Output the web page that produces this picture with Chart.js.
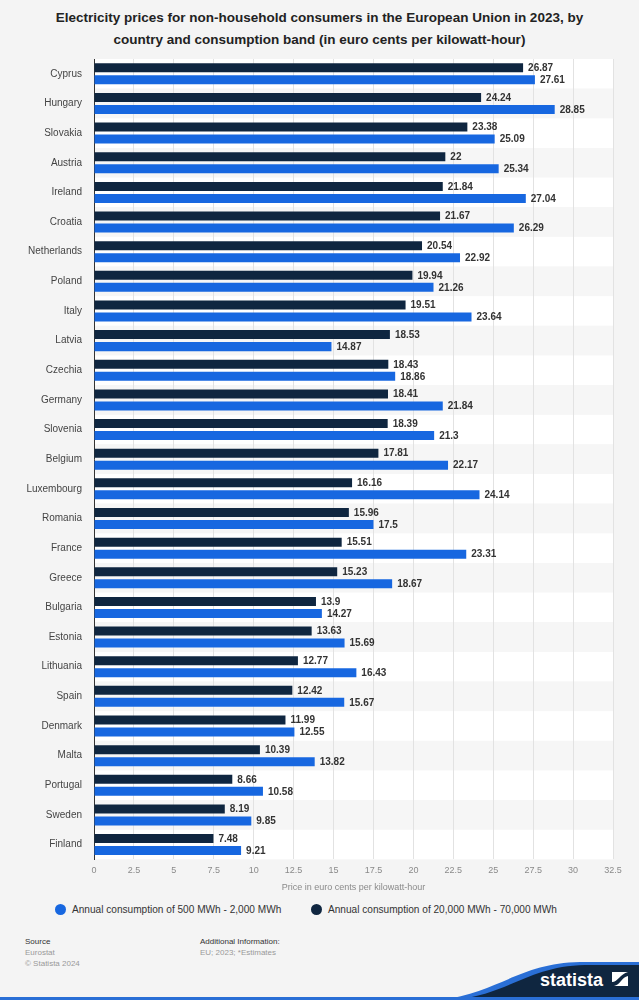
<!DOCTYPE html>
<html>
<head>
<meta charset="utf-8">
<script src="https://cdn.jsdelivr.net/npm/chart.js@4/dist/chart.umd.min.js"></script>
<style>
  html,body{margin:0;padding:0;background:#f4f4f4;}
  body{width:639px;height:1000px;position:relative;overflow:hidden;font-family:"Liberation Sans",Arial,sans-serif;}
  #title{position:absolute;top:7px;left:0;width:639px;text-align:center;font-weight:bold;font-size:13.5px;line-height:22px;color:#222;}
  #wrap{position:absolute;top:49px;left:0;width:639px;height:844px;}
  #legend{position:absolute;top:902px;left:0;width:639px;height:16px;font-size:10.1px;color:#333;}
  #legend span.item{position:absolute;top:0;white-space:nowrap;line-height:16px;}
  #legend i{display:inline-block;width:11px;height:11px;border-radius:50%;vertical-align:-2px;margin-right:6px;}
  .foot{position:absolute;font-size:8px;line-height:11px;color:#999;}
  .foot b{font-weight:normal;color:#333;}
</style>
</head>
<body>
<div id="title">Electricity prices for non-household consumers in the European Union in 2023, by<br>country and consumption band (in euro cents per kilowatt-hour)</div>
<div id="wrap"><canvas id="c"></canvas></div>
<div id="legend"></div>
<div class="foot" style="left:25px;top:936px;"><b>Source</b><br>Eurostat<br>© Statista 2024</div>
<div class="foot" style="left:200px;top:936px;"><b>Additional Information:</b><br>EU; 2023; *Estimates</div>
<svg style="position:absolute;left:0;top:930px;" width="639" height="70">
  <path d="M440,70 C500,62 520,33 580,32 L639,32 L639,70 Z" fill="#2a6fd6"/>
  <path d="M455,70 C510,63 530,36 585,35 L639,35 L639,70 Z" fill="#0f2640"/>
  <rect x="0" y="67" width="639" height="3" fill="#2a6fd6"/>
  <text x="540" y="56" fill="#fff" font-family="Liberation Sans, Arial" font-weight="bold" font-size="18">statista</text>
  <rect x="612" y="42" width="16" height="14" fill="#fff"/>
  <path d="M612,56 L612,52 C618,52 620,44 628,42 L628,46 C622,47 620,55 614,56 Z" fill="#0f2640"/>
</svg>
<script>
const countries = ["Cyprus","Hungary","Slovakia","Austria","Ireland","Croatia","Netherlands","Poland","Italy","Latvia","Czechia","Germany","Slovenia","Belgium","Luxembourg","Romania","France","Greece","Bulgaria","Estonia","Lithuania","Spain","Denmark","Malta","Portugal","Sweden","Finland"];
const band20000to70000 = [26.87,24.24,23.38,22,21.84,21.67,20.54,19.94,19.51,18.53,18.43,18.41,18.39,17.81,16.16,15.96,15.51,15.23,13.9,13.63,12.77,12.42,11.99,10.39,8.66,8.19,7.48];
const band500to2000 = [27.61,28.85,25.09,25.34,27.04,26.29,22.92,21.26,23.64,14.87,18.86,21.84,21.3,22.17,24.14,17.5,23.31,18.67,14.27,15.69,16.43,15.67,12.55,13.82,10.58,9.85,9.21];
const seriesNames = ["Annual consumption of 20,000 MWh - 70,000 MWh","Annual consumption of 500 MWh - 2,000 MWh"];
const seriesColors = ["#0f2640","#1767e0"];
const xTicksMax = 32.5;
const xTickStep = 2.5;
const xAxisTitle = "Price in euro cents per kilowatt-hour";

const bandsPlugin = {
  id:'bands',
  beforeDraw(chart){
    const {ctx, chartArea:a} = chart;
    const n = countries.length;
    const h = (a.bottom - a.top)/n;
    ctx.save();
    for(let i=0;i<n;i++){
      ctx.fillStyle = i%2===0 ? '#ffffff' : '#f6f6f6';
      ctx.fillRect(a.left, a.top + i*h, a.right-a.left, h);
    }
    ctx.restore();
  }
};
const labelsPlugin = {
  id:'vlabels',
  afterDatasetsDraw(chart){
    const ctx = chart.ctx;
    ctx.save();
    ctx.font = 'bold 10px "Liberation Sans", Arial, sans-serif';
    ctx.fillStyle = '#333';
    ctx.textBaseline = 'middle';
    ctx.textAlign = 'left';
    chart.data.datasets.forEach((ds,di)=>{
      chart.getDatasetMeta(di).data.forEach((el,i)=>{
        ctx.fillText(String(ds.data[i]), el.x + 5, el.y + 0.5);
      });
    });
    ctx.restore();
  }
};

const chart = new Chart(document.getElementById('c'), {
  type:'bar',
  data:{
    labels: countries,
    datasets:[
      {label: seriesNames[0], data: band20000to70000, backgroundColor:seriesColors[0], categoryPercentage:0.81, barPercentage:0.75},
      {label: seriesNames[1], data: band500to2000, backgroundColor:seriesColors[1], categoryPercentage:0.81, barPercentage:0.75}
    ]
  },
  options:{
    indexAxis:'y',
    responsive:true,
    maintainAspectRatio:false,
    animation:false,
    layout:{padding:{left:0,right:26,top:8,bottom:0}},
    scales:{
      x:{
        min:0, max:xTicksMax,
        ticks:{stepSize:xTickStep, color:'#8a8a8a', font:{size:9, family:'"Liberation Sans", Arial'}, padding:6},
        grid:{color:'#e2e2e2', drawTicks:false},
        border:{display:false},
        title:{display:true, text:xAxisTitle, color:'#8a8a8a', font:{size:9, family:'"Liberation Sans", Arial'}, padding:{top:0,bottom:0}}
      },
      y:{
        ticks:{color:'#444', font:{size:10, family:'"Liberation Sans", Arial'}, padding:4},
        grid:{display:false},
        border:{display:true, color:'#333', width:1},
        afterFit(s){ s.width = 94; }
      }
    },
    plugins:{
      legend:{display:false},
      tooltip:{enabled:false}
    }
  },
  plugins:[bandsPlugin, labelsPlugin]
});

// HTML legend built from the chart's datasets (reverse order as in the original)
const legendEl = document.getElementById('legend');
const legendX = [55, 311];
chart.data.datasets.slice().reverse().forEach((ds, k)=>{
  const s = document.createElement('span');
  s.className = 'item';
  s.style.left = legendX[k] + 'px';
  const dot = document.createElement('i');
  dot.style.background = ds.backgroundColor;
  s.appendChild(dot);
  s.appendChild(document.createTextNode(ds.label));
  legendEl.appendChild(s);
});
</script>
</body>
</html>
